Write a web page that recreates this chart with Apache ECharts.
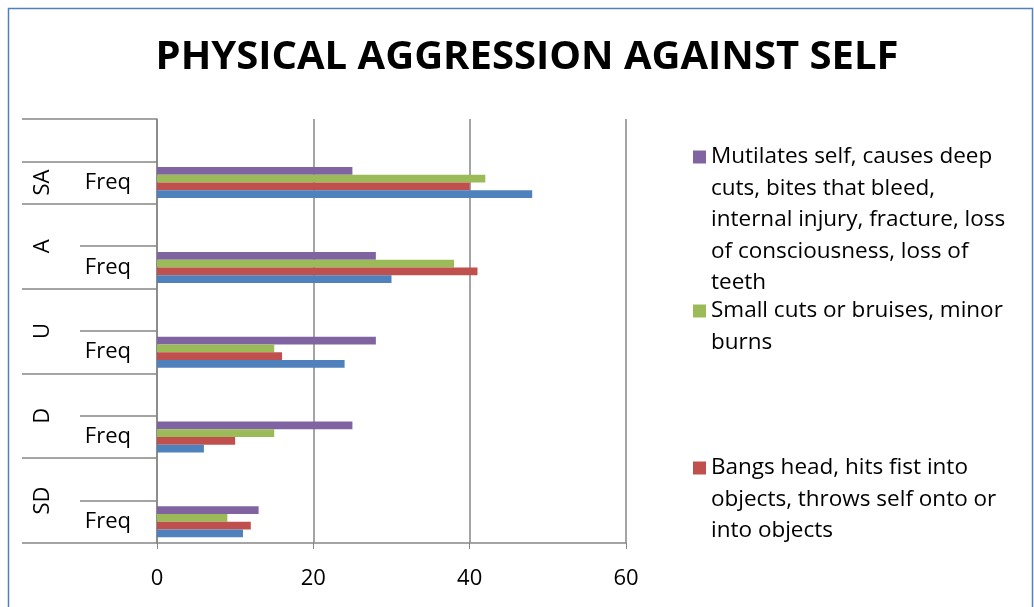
<!DOCTYPE html>
<html>
<head>
<meta charset="utf-8">
<script src="https://cdn.jsdelivr.net/npm/echarts@6/dist/echarts.min.js"></script>
<style>
  html, body { margin: 0; padding: 0; background: #fff; }
  #chart { width: 1034px; height: 607px; }
</style>
</head>
<body>
<div id="chart"></div>
<script>
// outer categories, bottom to top (Excel order)
var outerLabels = ['SD', 'D', 'U', 'A', 'SA'];
var innerLabel = 'Freq';

// values per outer category, bottom to top
var picksSkin = [11, 6, 24, 30, 48];      // blue
var bangsHead = [12, 10, 16, 41, 40];     // red
var smallCuts = [9, 15, 15, 38, 42];      // green
var mutilates = [13, 25, 28, 28, 25];     // purple

var seriesNames = [
	'Picks or scratches skin, hits self, pulls hair',
	'Bangs head, hits fist into objects, throws self onto or into objects',
	'Small cuts or bruises, minor burns',
	'Mutilates self, causes deep cuts, bites that bleed, internal injury, fracture, loss of consciousness, loss of teeth'
];
var legendText = {};
legendText[seriesNames[3]] = 'Mutilates self, causes deep\ncuts, bites that bleed,\ninternal injury, fracture, loss\nof consciousness, loss of\nteeth';
legendText[seriesNames[2]] = 'Small cuts or bruises, minor\nburns';
legendText[seriesNames[1]] = 'Bangs head, hits fist into\nobjects, throws self onto or\ninto objects';

var colors = ['#4F81BD', '#C0504D', '#9BBB59', '#8064A2'];

// rows of the category axis: each outer group has a "Freq" row and an empty row,
// except the last one (SA), then one empty row at the top
var rows = [];
var rowGroup = [];
for (var i = 0; i < outerLabels.length; i++) {
	rows.push(innerLabel); rowGroup.push(i);
	if (i < outerLabels.length - 1) { rows.push(''); rowGroup.push(-1); }
}
rows.push(''); rowGroup.push(-1);

function toRows(vals) {
	return rows.map(function (r, k) {
		return r === innerLabel ? vals[rowGroup[k]] : '-';
	});
}

// positions (in row units) of the outer labels and of the group separators
var outerCenters = {};
var groupLines = [0];
var pos = 0;
for (var i = 0; i < outerLabels.length; i++) {
	var span = (i < outerLabels.length - 1) ? 2 : 1;
	outerCenters[pos + span / 2] = outerLabels[i];
	pos += span;
	groupLines.push(pos);
}
groupLines.push(rows.length);

var font = '"Open Sans", Lato, sans-serif';
var gray = '#868686';
var lineH = 31.5;

var chart = echarts.init(document.getElementById('chart'));

// legend item whose icon sits on the first text line:
// blank lines are put in front so the first real line is the middle one
function legendFor(name, firstLineY) {
	var n = legendText[name].split('\n').length;
	var pad = '';
	for (var k = 1; k < n; k++) pad += '\n';
	return {
		orient: 'vertical',
		left: 693,
		top: firstLineY - (2 * n - 1) * lineH / 2,
		padding: 0,
		data: [name],
		itemWidth: 13,
		itemHeight: 13,
		itemGap: 0,
		icon: 'rect',
		selectedMode: false,
		formatter: function (nm) { return pad + legendText[nm]; },
		textStyle: {
			fontFamily: font,
			fontSize: 22.5,
			color: '#000',
			lineHeight: lineH
		}
	};
}

chart.setOption({
	animation: false,
	color: colors,
	title: {
		text: 'PHYSICAL AGGRESSION AGAINST SELF',
		left: 522,
		top: 33,
		textAlign: 'center',
		textStyle: { fontFamily: font, fontSize: 40, fontWeight: 'bold', color: '#000' }
	},
	graphic: [{
		type: 'rect',
		shape: { x: 8.5, y: 8.5, width: 1024, height: 700 },
		style: { fill: 'none', stroke: '#4F81BD', lineWidth: 1.5 },
		silent: true
	}],
	legend: [
		legendFor(seriesNames[3], 157),
		legendFor(seriesNames[2], 311),
		legendFor(seriesNames[1], 468)
	],
	grid: { left: 157, right: 408, top: 119, bottom: 64, containLabel: false },
	xAxis: {
		type: 'value',
		min: 0,
		max: 60,
		interval: 20,
		axisLine: { show: true, lineStyle: { color: gray, width: 1.5 } },
		axisTick: { show: true, length: 6, lineStyle: { color: gray } },
		axisLabel: { fontFamily: font, fontSize: 22, color: '#000', margin: 25 },
		splitLine: { show: true, lineStyle: { color: gray, width: 1.5 } }
	},
	yAxis: [{
		type: 'category',
		data: rows,
		axisLine: { show: true, lineStyle: { color: gray, width: 1.5 } },
		axisTick: { show: true, length: 77, lineStyle: { color: gray, width: 1.5 } },
		axisLabel: { fontFamily: font, fontSize: 22, color: '#000', margin: 26, interval: 0 },
		splitLine: { show: false }
	}, {
		type: 'value',
		position: 'left',
		min: 0,
		max: rows.length,
		axisLine: { show: false },
		axisTick: {
			show: true,
			length: 135,
			customValues: groupLines,
			lineStyle: { color: gray, width: 1.5 }
		},
		axisLabel: {
			fontFamily: font,
			fontSize: 22,
			color: '#000',
			rotate: 90,
			margin: 103,
			customValues: Object.keys(outerCenters).map(Number),
			formatter: function (v) { return outerCenters[v] || ''; }
		},
		splitLine: { show: false }
	}],
	// purple first so that it is drawn at the top of each group, blue at the bottom
	series: [3, 2, 1, 0].map(function (s) {
		var vals = [picksSkin, bangsHead, smallCuts, mutilates][s];
		return {
			name: seriesNames[s],
			type: 'bar',
			yAxisIndex: 0,
			data: toRows(vals),
			barGap: '0%',
			barCategoryGap: '27%',
			itemStyle: { color: colors[s] }
		};
	})
});
</script>
</body>
</html>
